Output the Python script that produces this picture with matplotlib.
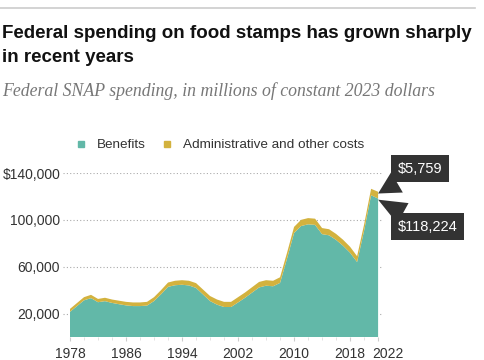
import numpy as np
import matplotlib
matplotlib.use("Agg")
import matplotlib.pyplot as plt
from matplotlib.lines import Line2D
from matplotlib.transforms import ScaledTranslation

years = np.arange(1978, 2023)
benefits = [21500, 26400, 31300, 33200, 29700, 30600, 29100, 28000, 27000, 26400,
            26400, 26800, 30700, 36500, 42800, 44200, 44600, 44000, 41900, 36300,
            30700, 27600, 25600, 25600, 29500, 33500, 37900, 42300, 43800, 43300,
            46200, 67000, 88800, 94700, 96200, 95700, 87800, 86800, 82900, 77900,
            71900, 64000, 90800, 121000, 118224]
admin = [2500, 2600, 2700, 2800, 2800, 2900, 2900, 3000, 3000, 3100,
         3100, 3200, 3300, 3500, 3700, 3800, 3900, 4000, 4100, 4200,
         4300, 4400, 4400, 4400, 4500, 4500, 4600, 4700, 4700, 4700,
         4800, 5000, 5200, 5300, 5300, 5300, 5200, 5200, 5100, 5100,
         5100, 5000, 5200, 5500, 5759]
yticks = [20000, 60000, 100000, 140000]
ytick_labels = ["20,000", "60,000", "100,000", "$140,000"]
xticks = [1978, 1986, 1994, 2002, 2010, 2018, 2022]

teal = "#62b8a8"
gold = "#d3b23e"
dark = "#333333"

plt.rcParams["font.family"] = ["Liberation Sans", "DejaVu Sans"]

fig = plt.figure(figsize=(4.85, 3.60), dpi=100)
W, H = 485, 360
ax = fig.add_axes([63 / W, 1 - 337 / H, (383 - 63) / W, (337 - 173) / H])

ax.stackplot(years, benefits, admin, colors=[teal, gold], linewidth=0)
ax.set_xlim(1977.0, 2022.7)
ax.set_ylim(0, 140000)

for v in yticks:
    ax.axhline(v, color="#aaaaaa", lw=0.8, ls=(0, (1, 2)), zorder=0)

ax.set_yticks(yticks)
ax.set_yticklabels(ytick_labels)
ax.set_xticks(xticks)
ax.set_xticks(np.arange(1978, 2023, 2), minor=True)
ax.tick_params(axis="y", length=0, pad=2, labelsize=10, labelcolor=dark)
ax.tick_params(axis="x", which="major", length=3, color="#cccccc", pad=4,
               labelsize=10, labelcolor=dark)
ax.tick_params(axis="x", which="minor", length=2, color="#dddddd")
# nudge the last label right so it does not run into 2018
last = ax.get_xticklabels()[-1]
last.set_transform(last.get_transform() + ScaledTranslation(9.5 / 100, 0, fig.dpi_scale_trans))
for s in ax.spines.values():
    s.set_visible(False)

# legend
handles = [Line2D([], [], marker="s", ls="", color=teal, markersize=5),
           Line2D([], [], marker="s", ls="", color=gold, markersize=5)]
fig.legend(handles, ["Benefits", "Administrative and other costs"],
           loc="center", bbox_to_anchor=(216 / W, 1 - 145 / H), ncol=2,
           frameon=False, fontsize=9.7, handletextpad=0.2, columnspacing=0.6,
           labelcolor=dark)

# callouts
top_total = benefits[-1] + admin[-1]
box = dict(boxstyle="square,pad=0.45", fc=dark, ec="none")
arrow = dict(arrowstyle="wedge,tail_width=1.6,shrink_factor=0.5",
             fc=dark, ec="none", shrinkA=0, shrinkB=0)
ax.annotate(f"${admin[-1]:,}", xy=(2022, top_total - 1500),
            xytext=(2024.8, 143500), color="white", fontsize=10.5,
            ha="left", va="center", annotation_clip=False,
            bbox=box, arrowprops=arrow)
ax.annotate(f"${benefits[-1]:,}", xy=(2022, benefits[-1] - 1000),
            xytext=(2024.8, 94000), color="white", fontsize=10.5,
            ha="left", va="center", annotation_clip=False,
            bbox=box, arrowprops=arrow)

# header
fig.add_artist(Line2D([0, 475 / W], [1 - 8 / H, 1 - 8 / H], color="#cccccc", lw=1.2))
fig.text(2 / W, 1 - 34 / H, "Federal spending on food stamps has grown sharply",
         fontsize=13.5, fontweight="bold", color="#111111", va="center")
fig.text(2 / W, 1 - 58 / H, "in recent years",
         fontsize=13.5, fontweight="bold", color="#111111", va="center")
fig.text(2 / W, 1 - 91 / H, "Federal SNAP spending, in millions of constant 2023 dollars",
         fontsize=12.8, style="italic", color="#777777", va="center",
         family=["Liberation Serif", "DejaVu Serif"])

fig.savefig("out.png", dpi=100)
